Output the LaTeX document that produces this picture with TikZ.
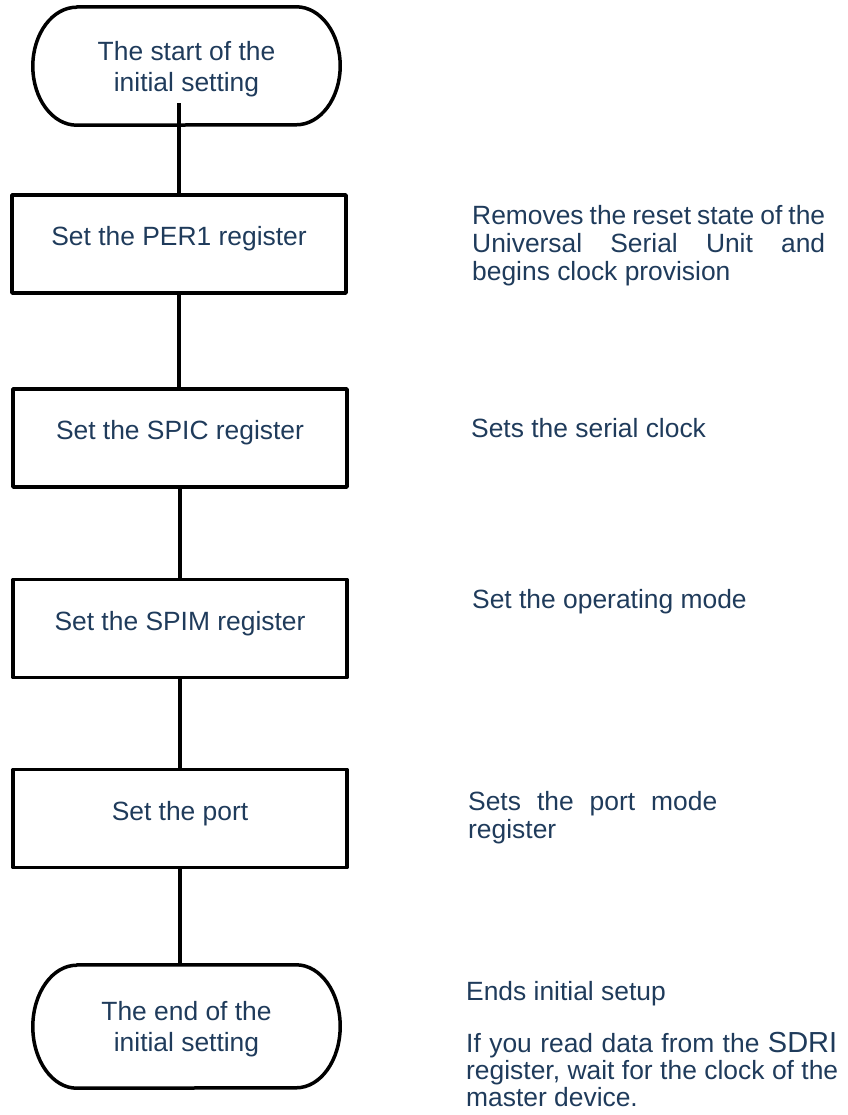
\documentclass[tikz,border=0pt]{standalone}
\usepackage{fontspec}
\setmainfont{Liberation Sans}
\definecolor{txt}{HTML}{1F3B5B}
\begin{document}
\begin{tikzpicture}[x=1pt,y=-1pt,
  line/.style={draw=black,line width=3.5pt,line join=round},
  box/.style={line,rectangle,minimum width=334pt,minimum height=98pt,inner sep=0pt},
  term/.style={rectangle,draw=none,minimum width=307pt,inner sep=0pt},
  lab/.style={text=txt,font=\fontsize{26.4}{31}\selectfont,align=center},
  note/.style={text=txt,font=\fontsize{26.4}{28}\selectfont,anchor=base west,inner sep=0pt}]
\useasboundingbox (0,0) rectangle (847,1115);
% terminals
\node[term,minimum height=118pt,
  label={[lab,yshift=-3pt]center:The start of the\\initial setting}] (start) at (186.5,66) {};
\node[term,minimum height=123pt,
  label={[lab,yshift=-3pt]center:The end of the\\initial setting}] (end) at (186.5,1026.5) {};
\draw[line] ([xshift=44pt]start.north west) -- ([xshift=-44pt]start.north east)
  arc[start angle=-90,end angle=90,x radius=44,y radius=59]
  -- ([xshift=44pt]start.south west)
  arc[start angle=90,end angle=270,x radius=44,y radius=59] -- cycle;
\draw[line] ([xshift=44pt]end.north west) -- ([xshift=-44pt]end.north east)
  arc[start angle=-90,end angle=90,x radius=44,y radius=61.5]
  -- ([xshift=44pt]end.south west)
  arc[start angle=90,end angle=270,x radius=44,y radius=61.5] -- cycle;
% process boxes
\node[box,label={[lab,yshift=5pt]center:Set the PER1 register}] (per1) at (179,244) {};
\node[box,label={[lab,yshift=5pt]center:Set the SPIC register}] (spic) at (180,438) {};
\node[box,label={[lab,yshift=5pt]center:Set the SPIM register}] (spim) at (180,628.5) {};
\node[box,label={[lab,yshift=5pt]center:Set the port}] (port) at (180,818.5) {};
% connectors
\draw[line] ([yshift=22pt]start.south -| per1.north) -- (per1.north);
\draw[line] (per1.south) -- (per1.south |- spic.north);
\draw[line] (spic.south) -- (spic.south |- spim.north);
\draw[line] (spim.south) -- (spim.south |- port.north);
\draw[line] (port.south) -- (port.south |- end.north);
% notes
\node[note] (n1) at (472,225) {\begin{tabular}[t]{@{}l@{}}\makebox[353pt][s]{Removes the reset state of the}\\\makebox[353pt][s]{Universal Serial Unit and}\\begins clock provision\end{tabular}};
\node[note] (n2) at (471,437) {Sets the serial clock};
\node[note] (n3) at (472,608) {Set the operating mode};
\node[note] (n4) at (468,810) {\begin{tabular}[t]{@{}l@{}}\makebox[249pt][s]{Sets the port mode}\\register\end{tabular}};
\node[note] (n5) at (466,1000) {Ends initial setup};
\node[note,font=\fontsize{26.4}{26.5}\selectfont] (n6) at (466,1052) {\begin{tabular}[t]{@{}l@{}}\makebox[371pt][s]{If you read data from the {\fontsize{29}{26.5}\selectfont SDRI}}\\\makebox[372pt][s]{register, wait for the clock of the}\\master device.\end{tabular}};
\end{tikzpicture}
\end{document}
